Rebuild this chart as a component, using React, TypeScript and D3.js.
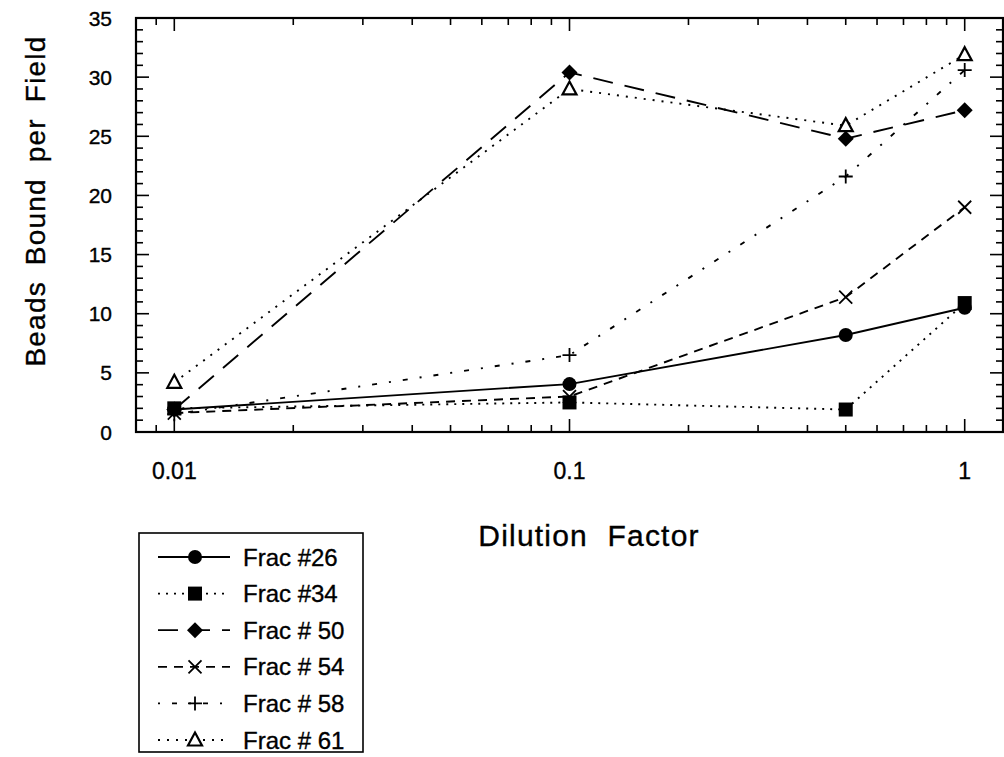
import React from 'react';
import * as d3 from 'd3';

// dilution factors and counts
const dilutions = [0.01, 0.1, 0.5, 1];
const frac26 = [1.9, 4.05, 8.2, 10.5];
const frac34 = [2.0, 2.5, 1.9, 10.9];
const frac50 = [1.9, 30.4, 24.8, 27.2];
const frac54 = [1.6, 3.0, 11.4, 19.0];
const frac58 = [1.5, 6.5, 21.6, 30.6];
const frac61 = [4.2, 29.0, 25.9, 31.9];

const seriesNames = ['Frac #26', 'Frac #34', 'Frac # 50', 'Frac # 54', 'Frac # 58', 'Frac # 61'];
const seriesValues = [frac26, frac34, frac50, frac54, frac58, frac61];
const dashes = ['none', '2,6', '20,12', '9,7', '2,12,5,12', '2,7'];
const markers = ['circle', 'square', 'diamond', 'cross', 'plus', 'triangle'];

const xTickLabels = ['0.01', '0.1', '1'];
const yTickLabels = [0, 5, 10, 15, 20, 25, 30, 35];

const W = 1004;
const H = 757;
const left = 136;
const right = 1003;
const top = 18;
const bottom = 432;
const font = 'Liberation Sans, Arial, Helvetica, sans-serif';
const txt = { fontFamily: font, stroke: '#000', strokeWidth: 0.35 };

const Marker = ({ type, x, y }: { type: string; x: number; y: number }) => {
  if (type === 'circle') return <circle cx={x} cy={y} r={7} fill="#000" />;
  if (type === 'square') return <rect x={x - 7} y={y - 7} width={14} height={14} fill="#000" />;
  if (type === 'diamond')
    return <path d={`M${x},${y - 8}L${x + 8},${y}L${x},${y + 8}L${x - 8},${y}Z`} fill="#000" />;
  if (type === 'cross')
    return (
      <path d={`M${x - 6.5},${y - 6.5}L${x + 6.5},${y + 6.5}M${x - 6.5},${y + 6.5}L${x + 6.5},${y - 6.5}`} stroke="#000" strokeWidth={1.8} />
    );
  if (type === 'plus')
    return <path d={`M${x - 7},${y}L${x + 7},${y}M${x},${y - 7}L${x},${y + 7}`} stroke="#000" strokeWidth={1.8} />;
  return (
    <path
      d={`M${x},${y - 7.5}L${x + 7},${y + 5.5}L${x - 7},${y + 5.5}Z`}
      fill="#fff"
      stroke="#000"
      strokeWidth={2.2}
    />
  );
};

export default function App() {
  const x = d3.scaleLog().domain([0.008, 1.25]).range([left, right]);
  const y = d3.scaleLinear().domain([0, 35]).range([bottom, top]);

  const line = d3
    .line<number>()
    .x((d, i) => x(dilutions[i]))
    .y(d => y(d));

  const xMinor: number[] = [];
  [0.001, 0.01, 0.1, 1].forEach(base => {
    for (let k = 1; k < 10; k++) {
      const v = base * k;
      if (v >= 0.008 && v <= 1.25) xMinor.push(v);
    }
  });
  const yMinor = d3.range(0, 36, 1);

  const isMajorX = (v: number) => [0.01, 0.1, 1].some(m => Math.abs(m - v) < 1e-9);

  return (
    <svg width={W} height={H} style={{ display: 'block', position: 'absolute', left: 0, top: 0 }}>
      <rect width={W} height={H} fill="#fff" />
      {/* frame */}
      <rect x={left} y={top} width={right - left} height={bottom - top} fill="none" stroke="#000" strokeWidth={2.2} />

      {/* x ticks, top and bottom, pointing inward */}
      {xMinor.map((v, i) => {
        const len = isMajorX(v) ? 13 : 7;
        return (
          <g key={'xt' + i} stroke="#000" strokeWidth={1.6}>
            <line x1={x(v)} x2={x(v)} y1={bottom} y2={bottom - len} />
            <line x1={x(v)} x2={x(v)} y1={top} y2={top + len} />
          </g>
        );
      })}
      {/* y ticks, left and right */}
      {yMinor.map(v => {
        const len = v % 5 === 0 ? 13 : 7;
        return (
          <g key={'yt' + v} stroke="#000" strokeWidth={1.6}>
            <line x1={left} x2={left + len} y1={y(v)} y2={y(v)} />
            <line x1={right} x2={right - len} y1={y(v)} y2={y(v)} />
          </g>
        );
      })}

      {xTickLabels.map(t => (
        <text key={t} x={x(+t)} y={479} textAnchor="middle" fontSize={23} {...txt}>
          {t}
        </text>
      ))}
      {yTickLabels.map(t => (
        <text key={t} x={112} y={y(t)} dy="0.36em" textAnchor="end" fontSize={21} {...txt}>
          {t}
        </text>
      ))}

      <text x={589} y={546} textAnchor="middle" fontSize={30} letterSpacing={1.2} wordSpacing={10} {...txt}>
        Dilution Factor
      </text>
      <text
        transform={`translate(45,${201}) rotate(-90)`}
        textAnchor="middle"
        fontSize={28}
        letterSpacing={1.2}
        wordSpacing={7}
        {...txt}
      >
        Beads Bound per Field
      </text>

      {/* series lines */}
      {seriesValues.map((vals, i) => (
        <path
          key={'l' + i}
          d={line(vals) || ''}
          fill="none"
          stroke="#000"
          strokeWidth={1.9}
          strokeDasharray={dashes[i]}
        />
      ))}
      {seriesValues.map((vals, i) =>
        vals.map((v, j) => <Marker key={'m' + i + '-' + j} type={markers[i]} x={x(dilutions[j])} y={y(v)} />)
      )}

      {/* legend */}
      <rect x={139} y={533} width={224} height={219} fill="#fff" stroke="#000" strokeWidth={1.6} />
      {seriesNames.map((name, i) => {
        const ly = 557 + i * 36.6;
        return (
          <g key={'lg' + i}>
            <line x1={158} x2={230} y1={ly} y2={ly} stroke="#000" strokeWidth={1.8} strokeDasharray={dashes[i]} />
            <Marker type={markers[i]} x={195} y={ly} />
            <text x={243} y={ly} dy="0.36em" fontSize={24} {...txt}>
              {name}
            </text>
          </g>
        );
      })}
    </svg>
  );
}
